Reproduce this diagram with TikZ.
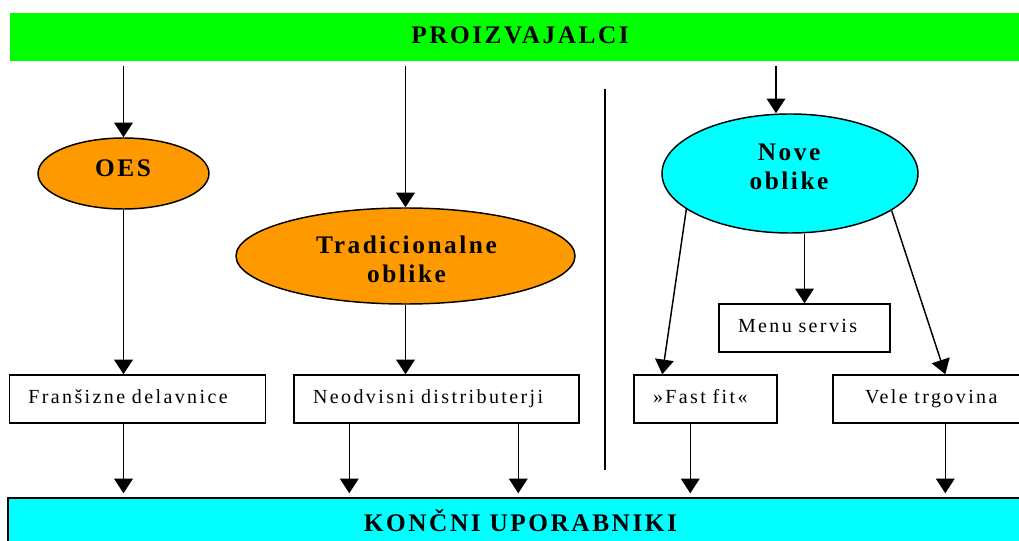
\documentclass[tikz,border=0pt]{standalone}
\usepackage{fontspec}
\setmainfont{Liberation Serif}
\newfontfamily\bsp{Liberation Serif}[LetterSpace=10]
\newfontfamily\rsp{Liberation Serif}[LetterSpace=12]
\usetikzlibrary{arrows.meta,shapes.geometric,calc}
\definecolor{prodgreen}{HTML}{00FF00}
\definecolor{usercyan}{HTML}{00FFFF}
\definecolor{oesorange}{HTML}{FF9900}
\tikzset{
  conn/.style={line width=1.1pt},
  arr/.style={conn,-{Triangle[width=14pt,length=11pt]}},
  ell/.style={ellipse, draw, line width=1.1pt, inner sep=0pt},
  boxnode/.style={rectangle, draw, line width=1.1pt, inner xsep=14.25pt, inner ysep=0pt,
    minimum height=36pt, align=left, text height=10pt, text depth=3pt,
    font=\fontsize{15}{17}\selectfont\rsp},
  bt/.style={inner sep=0pt, font=\fontsize{19}{21.75}\selectfont\bsp\bfseries},
}
\begin{document}
\begin{tikzpicture}[x=0.75pt,y=-0.75pt]
\useasboundingbox (0,0) rectangle (1019,541);
\clip (0,0) rectangle (1019,541);
% bars
\node[fill=prodgreen, inner sep=0pt, minimum width=772.5pt, minimum height=36pt] (prod) at (525,37) {};
\node[bt, anchor=base] (prodt) at (520,44) {PROIZVAJALCI};
\node[fill=usercyan, draw, line width=1.1pt, inner sep=0pt, minimum width=774pt, minimum height=69pt] (users) at (524,544) {};
\node[bt, anchor=base] (userst) at (520.5,531) {KONČNI UPORABNIKI};
% ellipses
\node[ell, fill=oesorange, minimum width=128.25pt, minimum height=53.25pt] (oes) at (123.5,173.5) {};
\node[bt, anchor=base] (oest) at (123,177) {OES};
\node[ell, fill=oesorange, minimum width=254.25pt, minimum height=72pt] (trad) at (405.5,256) {};
\node[bt, anchor=north, align=center] (tradt) at (406.5,236) {Tradicionalne\\oblike};
\node[ell, fill=usercyan, minimum width=192pt, minimum height=89.25pt] (nove) at (790,173.5) {};
\node[bt, anchor=north, align=center] (novet) at (789,144) {Nove\\oblike};
% boxes
\node[boxnode, text width=163.8pt] (fr) at (137.5,399) {Franšizne delavnice};
\node[boxnode, text width=185.25pt] (nd) at (436.5,399) {Neodvisni distributerji};
\node[boxnode, text width=99.75pt] (ms) at (804.5,328) {Menu servis};
\node[boxnode, text width=78.75pt] (ff) at (705.5,399) {»Fast fit«};
\node[boxnode, text width=136.5pt] (vt) at (943,399) {\hspace*{9.75pt}Vele trgovina};
% separator
\coordinate (s1) at (605,89);
\coordinate (s2) at (605,470);
\draw[conn] (s1) -- (s2);
% connector anchor points
\coordinate (nt) at (776,0);
\coordinate (ffin) at ($(ff.north west)+(29,0)$);
\coordinate (vtin) at ($(vt.north west)+(113,0)$);
\coordinate (nd1) at ($(nd.south west)+(56,0)$);
\coordinate (nd2) at ($(nd.south west)+(225,0)$);
\coordinate (ffout) at ($(ff.south west)+(57,0)$);
\coordinate (vtout) at ($(vt.south west)+(113,0)$);
% connectors
\draw[arr, shorten <=3.75pt] (prod.south -| oes.north) -- (oes.north);
\draw[arr, shorten <=3.75pt] (prod.south -| trad.north) -- (trad.north);
\draw[arr, shorten <=3.75pt] (prod.south -| nt) -- (nove.north -| nt);
\draw[arr] (oes.south) -- (oes.south |- fr.north);
\draw[arr] (trad.south) -- (trad.south |- nd.north);
\draw[arr] (nove.south -| ms.north) -- (ms.north);
\draw[arr] (nove.199.7) -- (ffin);
\draw[arr] (nove.340.3) -- (vtin);
\draw[arr, shorten >=3pt] (fr.south -| oes.south) -- (users.north -| oes.south);
\draw[arr, shorten >=3pt] (nd1) -- (nd1 |- users.north);
\draw[arr, shorten >=3pt] (nd2) -- (nd2 |- users.north);
\draw[arr, shorten >=3pt] (ffout) -- (ffout |- users.north);
\draw[arr, shorten >=3pt] (vtout) -- (vtout |- users.north);
\end{tikzpicture}
\end{document}
